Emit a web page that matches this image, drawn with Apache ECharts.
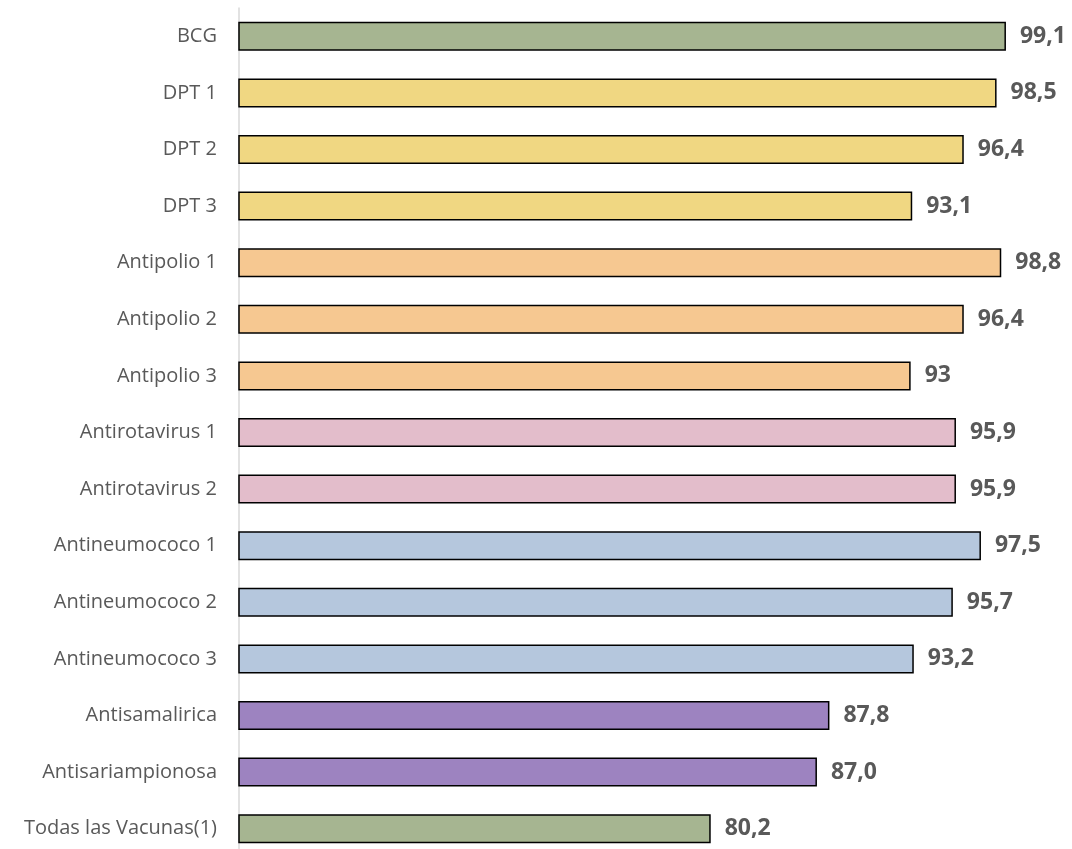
<!DOCTYPE html>
<html><head><meta charset="utf-8">
<script src="https://cdn.jsdelivr.net/npm/echarts@6/dist/echarts.min.js"></script>
<style>html,body{margin:0;padding:0;background:#fff}#c{width:1072px;height:849px}</style>
</head><body><div id="c"></div>
<script>
const categories = ["BCG","DPT 1","DPT 2","DPT 3","Antipolio 1","Antipolio 2","Antipolio 3","Antirotavirus 1","Antirotavirus 2","Antineumococo 1","Antineumococo 2","Antineumococo 3","Antisamalirica","Antisariampionosa","Todas las Vacunas(1)"];
const values = [99.1,98.5,96.4,93.1,98.8,96.4,93,95.9,95.9,97.5,95.7,93.2,87.8,87.0,80.2];
const valueLabels = ["99,1","98,5","96,4","93,1","98,8","96,4","93","95,9","95,9","97,5","95,7","93,2","87,8","87,0","80,2"];
const barColors = ["#a6b591","#f0d782","#f0d782","#f0d782","#f6c891","#f6c891","#f6c891","#e3bdcb","#e3bdcb","#b5c7dd","#b5c7dd","#b5c7dd","#9d83c0","#9d83c0","#a6b591"];

const chart = echarts.init(document.getElementById('c'), null, {renderer:'canvas'});
chart.setOption({
  animation:false,
  grid:{left:239, right:52, top:8, height:849, containLabel:false, outerBoundsMode:'none'},
  xAxis:{type:'value', min:50, max:100, show:false},
  yAxis:{type:'category', inverse:true, data:categories,
    axisLine:{show:true, lineStyle:{color:'#d9d9d9', width:1.5}},
    axisTick:{show:false},
    axisLabel:{margin:22, fontFamily:'Open Sans', fontSize:20, color:'#595959'}},
  series:[{type:'bar', barWidth:29,
    data: values.map((v,i)=>({value:v, itemStyle:{color:barColors[i]}})),
    itemStyle:{borderColor:'#000', borderWidth:1.5},
    label:{show:true, position:'right', distance:14, fontFamily:'Open Sans', fontWeight:'bold', fontSize:23, color:'#595959',
      formatter:p=>valueLabels[p.dataIndex]}
  }]
});
</script></body></html>
